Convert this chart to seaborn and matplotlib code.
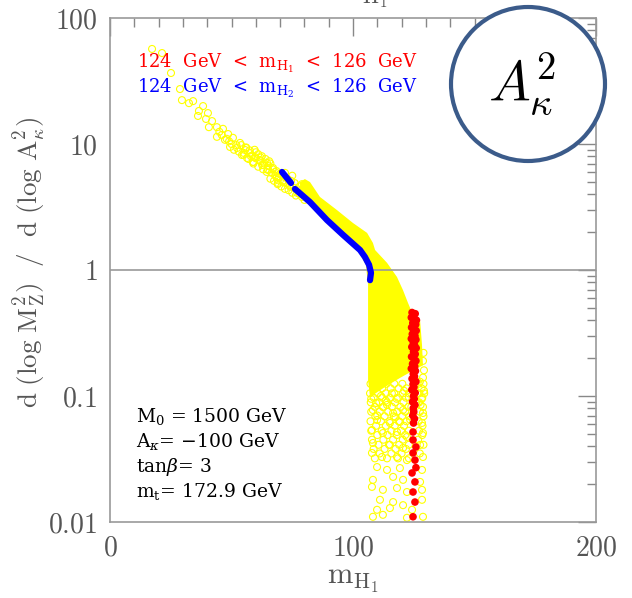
import numpy as np
import pandas as pd
import seaborn as sns
import matplotlib.pyplot as plt
from matplotlib.patches import Circle
from matplotlib.ticker import MultipleLocator, LogLocator, NullFormatter

# ---- data ---- #
# sparse open circles, upper-left tail
tail_x = [17.3, 21.4, 25.1, 28.8, 29.6, 32.5, 34.2, 38.3, 36.6, 40.3, 36.2, 39.5,
          42.0, 44.0, 40.7, 46.5, 44.0, 48.6, 47.3, 50.6, 49.4, 53.5, 52.3, 55.6,
          54.3, 57.6, 56.4, 59.7, 58.8, 61.7, 62.6, 64.6, 65.0, 67.1, 68.7, 69.1]
tail_y = [56.8, 52.7, 36.6, 27.3, 22.3, 21.1, 21.9, 20.0, 18.3, 17.6, 16.7, 15.8,
          15.2, 13.6, 13.6, 13.2, 11.4, 12.0, 10.8, 11.2, 9.47, 10.2, 9.3, 8.96,
          8.18, 8.48, 7.74, 7.88, 7.19, 7.46, 6.81, 7.07, 6.22, 6.45, 5.47, 4.90]

# denser band of open circles before the solid part
band_x = [54, 55, 56, 57, 57.5, 58.5, 59, 59.5, 60, 61, 61, 62, 62.5, 63, 63.5, 64,
          64.5, 65, 65.5, 66, 66.5, 67, 67.5, 68, 68.5, 69, 69.5, 70, 70.5, 71,
          71.5, 72, 72.5, 73, 73.5, 74, 74.5, 75, 75.5, 76, 76.5, 77, 78, 79, 80,
          45, 46, 48, 49, 50, 51, 52, 53, 55, 56, 58, 59, 60, 62, 63, 65, 66, 68,
          69, 71, 72, 74, 75, 77, 78, 79]
band_y = [9.8, 8.2, 9.3, 7.6, 8.9, 8.1, 7.0, 9.0, 7.7, 8.3, 6.6, 7.3, 8.0, 6.3, 7.0, 7.6,
          6.0, 6.7, 7.3, 5.3, 5.9, 6.3, 5.1, 5.6, 6.1, 4.8, 5.4, 5.8, 4.6, 5.1,
          5.5, 4.4, 4.9, 5.3, 4.3, 4.7, 5.1, 4.1, 4.5, 4.9, 3.9, 4.3, 4.0, 3.8, 3.6,
          12.5, 11.8, 11.0, 10.5, 10.0, 9.0, 9.8, 8.7, 8.5, 9.4, 8.0, 7.2, 8.6, 7.8,
          6.8, 6.3, 7.0, 6.0, 5.2, 5.0, 5.9, 4.6, 5.6, 4.1, 4.6, 4.8]

# outline of the solid yellow region
solid_x = [78.2, 78.2, 80.2, 82.3, 86.4, 93.4, 100.0, 105.8, 108.2, 109.1, 114.0, 118.1,
           120.6, 122.6, 124.3, 127.6, 128.4, 128.8, 126.7, 119.3, 113.2, 107.0, 106.2,
           106.2, 106.2, 105.3, 100.8, 94.7, 88.5, 82.3]
solid_y = [4.31, 4.99, 5.27, 4.99, 3.80, 2.99, 2.36, 1.97, 1.64, 1.44, 1.14, 0.88,
           0.69, 0.55, 0.46, 0.40, 0.254, 0.175, 0.167, 0.139, 0.118, 0.098, 0.134,
           0.334, 0.76, 1.10, 1.58, 2.08, 2.63, 3.40]

# dense open circles just under the solid region, row by row
fan_levels = [0.125, 0.115, 0.105, 0.097, 0.089, 0.082, 0.075, 0.069, 0.063,
              0.058, 0.053, 0.049, 0.045, 0.041, 0.038, 0.035, 0.032]
fan_rows = [[107.2, 110.5, 113.8, 117.0, 120.3, 127.0, 129.0],
            [108.8, 112.0, 115.5, 118.8, 122.0, 128.2],
            [107.0, 110.2, 113.5, 117.0, 120.5, 123.0, 127.3, 129.3],
            [108.5, 112.0, 115.2, 118.5, 121.8, 128.5],
            [107.3, 110.8, 114.0, 117.3, 120.8, 127.2],
            [109.0, 112.5, 116.0, 119.5, 122.8, 128.8],
            [107.5, 111.0, 114.5, 118.2, 121.5, 127.5],
            [109.2, 113.0, 116.8, 120.2, 123.2, 129.0],
            [107.2, 111.5, 115.0, 118.8, 122.0, 127.0],
            [109.5, 113.5, 117.2, 121.0, 128.6],
            [107.5, 111.8, 115.8, 119.8, 123.0, 127.2],
            [110.0, 114.2, 118.0, 121.5, 128.5],
            [107.8, 112.5, 116.5, 120.5, 126.8],
            [110.5, 114.8, 119.0, 123.0, 129.0],
            [108.5, 113.0, 117.5, 121.8],
            [111.0, 115.8, 120.0, 127.5],
            [109.0, 114.0, 118.5, 123.0]]

# sparse open circles further down
low_x = [107.5, 109.5, 111.5, 113.5, 116.0, 118.0, 121.0, 123.0, 125.5, 127.5, 128.8, 129.2,
         128.3, 126.0, 124.0, 114.0, 110.0, 117.5, 123.5, 127.8, 129.2, 128.8, 129.0,
         108.2, 112.3, 116.5, 120.6, 109.9, 115.2, 119.3, 128.8, 128.4, 107.8, 112.3, 118.1,
         122.2, 128.8, 108.2, 115.2, 120.6, 127.6, 107.8, 111.9, 118.1, 122.2, 128.8, 109.9,
         114.0, 119.3, 128.4, 108.2, 116.5, 120.6, 127.6, 107.8, 112.3, 118.1, 122.2, 128.4,
         111.1, 116.5, 120.6, 128.4, 109.9, 115.2, 124.3, 108.2, 112.3, 122.2, 128.8]
low_y = [0.095, 0.088, 0.10, 0.092, 0.105, 0.095, 0.11, 0.098, 0.12, 0.13, 0.14, 0.11,
         0.095, 0.088, 0.082, 0.085, 0.07, 0.068, 0.065, 0.085, 0.16, 0.19, 0.22,
         0.0774, 0.0818, 0.0733, 0.0774, 0.0645, 0.0611, 0.0622, 0.0733, 0.0611, 0.0537,
         0.0508, 0.0518, 0.0473, 0.0508, 0.0424, 0.0409, 0.0387, 0.0409, 0.0353, 0.0328,
         0.0328, 0.0310, 0.0328, 0.0273, 0.0259, 0.0268, 0.0259, 0.0216, 0.0228, 0.0216,
         0.0208, 0.0190, 0.0180, 0.0186, 0.0173, 0.0180, 0.0150, 0.0144, 0.0136, 0.0150,
         0.0125, 0.0129, 0.0125, 0.0110, 0.0114, 0.0108, 0.0110]

# 124 GeV < m_H2 < 126 GeV (blue), two runs
blue_seg = [1, 1, 2, 2, 2, 2, 2, 2, 2, 2, 2]
blue_x = [70.8, 74.5, 76.1, 82.3, 89.3, 95.9, 102.9, 104.9, 106.6, 107.4, 107.0]
blue_y = [6.0, 4.9, 4.4, 3.46, 2.49, 1.9, 1.44, 1.27, 1.10, 0.95, 0.83]

# 124 GeV < m_H1 < 126 GeV (red)
red_x = [124.3, 125.6, 124.0, 125.2, 126.1, 124.6, 125.8, 124.1, 125.0, 126.0, 124.4, 125.5,
         124.0, 125.9, 124.8, 125.3, 124.2, 126.0, 124.9, 125.6, 124.1, 125.2, 125.9, 124.5,
         125.4, 124.0, 125.7, 124.8, 125.3, 124.3, 125.9, 124.7, 125.1, 124.2, 125.6, 124.9,
         125.2, 124.5, 125.5, 124.8, 125.0, 124.6, 125.3, 124.9,
         124.7, 124.7, 125.9, 124.7, 125.5, 124.3, 125.9, 125.5, 124.7, 125.5, 124.7]
red_y = [0.46, 0.45, 0.42, 0.41, 0.40, 0.38, 0.37, 0.35, 0.34, 0.33, 0.31, 0.30,
         0.285, 0.28, 0.265, 0.255, 0.245, 0.24, 0.225, 0.215, 0.205, 0.195, 0.19, 0.18,
         0.172, 0.165, 0.158, 0.15, 0.143, 0.137, 0.13, 0.124, 0.118, 0.112, 0.106, 0.10,
         0.095, 0.09, 0.085, 0.08, 0.075, 0.07, 0.066, 0.061,
         0.0518, 0.0448, 0.0394, 0.0353, 0.031, 0.0245, 0.027, 0.0208, 0.0173, 0.0144, 0.0110]

y_ticks = [0.01, 0.1, 1, 10, 100]
y_labels = ["$0.01$", "$0.1$", "$1$", "$10$", "$100$"]
x_ticks = [0, 100, 200]
x_labels = ["$0$", "$100$", "$200$"]

# ---- style ---- #
sns.set_style("white")
plt.rcParams["font.family"] = ["DejaVu Serif"]
plt.rcParams["mathtext.fontset"] = "cm"

gray = "#999999"
txt_gray = "#555555"

fig = plt.figure(figsize=(6.32, 5.98), dpi=100)
ax = fig.add_axes([110 / 632, 76 / 598, 486 / 632, 504 / 598])
ax.set_yscale("log")

# yellow points
fan_x = [x for row in fan_rows for x in row]
fan_y = [lv for lv, row in zip(fan_levels, fan_rows) for _ in row]
ax.fill(solid_x, solid_y, color="yellow", lw=0, zorder=1)
pts = pd.DataFrame({"x": tail_x + band_x + fan_x + low_x,
                    "y": tail_y + band_y + fan_y + low_y})
sns.scatterplot(data=pts, x="x", y="y", ax=ax, marker="o", s=25,
                facecolor="none", edgecolor="yellow", linewidth=0.8, zorder=2)

ax.axhline(1, color=gray, lw=1.2, zorder=3)

# blue
blue = pd.DataFrame({"x": blue_x, "y": blue_y, "seg": blue_seg})
sns.lineplot(data=blue, x="x", y="y", units="seg", estimator=None, sort=False,
             color="#0000ff", lw=4.5, solid_capstyle="round", ax=ax, zorder=4)

# red
sns.scatterplot(x=red_x, y=red_y, ax=ax, marker="o", s=30, color="#ff0000",
                edgecolor="none", zorder=5)

ax.set_xlim(0, 200)
ax.set_ylim(0.01, 100)
ax.set_xticks(x_ticks)
ax.set_xticklabels(x_labels)
ax.xaxis.set_minor_locator(MultipleLocator(10))
ax.set_yticks(y_ticks)
ax.set_yticklabels(y_labels)
ax.yaxis.set_minor_locator(LogLocator(base=10, subs=np.arange(2, 10)))
ax.yaxis.set_minor_formatter(NullFormatter())
ax.tick_params(which="both", direction="in", top=True, right=True, color="#888888",
               labelcolor=txt_gray, labelsize=20, width=1)
ax.tick_params(which="major", length=13, pad=9)
ax.tick_params(which="minor", length=6.8)
for s in ax.spines.values():
    s.set_color(gray)
    s.set_linewidth(1.2)
ax.set_xlabel(r"$\mathrm{m_{H_1}}$", fontsize=22, color=txt_gray, labelpad=2)
ax.set_ylabel("")

fig.text(30 / 632, 1 - 262 / 598,
         r"$\mathrm{d\ (log\ M_Z^2)\ \ /\ \ d\ (log\ A_\kappa^2)}$",
         rotation=90, ha="center", va="center", fontsize=19.5, color=txt_gray)
# top label, mostly outside the figure as in the original
fig.text(362 / 632, 1 + 1 / 598, r"$\mathrm{m_{H_1}}$", ha="center", va="baseline",
         fontsize=22, color=txt_gray)

# legend-like texts
fig.text(137 / 632, 1 - 68 / 598, r"124  GeV  <  m$_\mathrm{H_1}$  <  126  GeV",
         color="#ff0000", fontsize=13, math_fontfamily="dejavuserif")
fig.text(137 / 632, 1 - 93 / 598, r"124  GeV  <  m$_\mathrm{H_2}$  <  126  GeV",
         color="#0000ff", fontsize=13, math_fontfamily="dejavuserif")

params = [r"M$_0$ = 1500 GeV", r"A$_\kappa$= −100 GeV", r"tan$\beta$= 3",
          r"m$_\mathrm{t}$= 172.9 GeV"]
for i, t in enumerate(params):
    fig.text(136 / 632, 1 - (422 + 25 * i) / 598, t, color="black", fontsize=13.5,
             math_fontfamily="dejavuserif")

# badge
circ = Circle((5.28, 5.98 - 0.84), 0.77, transform=fig.dpi_scale_trans,
              facecolor="white", edgecolor="#3b5b8a", lw=3, zorder=10)
fig.add_artist(circ)
t = fig.text(522 / 632, 1 - 85 / 598, r"$A_\kappa^2$", ha="center", va="center",
             fontsize=40, color="black")
t.set_zorder(11)

plt.savefig("out.png", dpi=100)
